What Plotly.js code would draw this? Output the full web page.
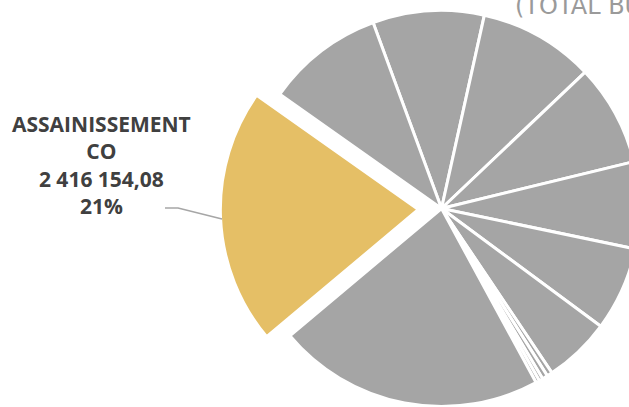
<!DOCTYPE html>
<html>
<head>
<meta charset="utf-8">
<script src="https://cdn.plot.ly/plotly-3.0.1.min.js"></script>
<style>
  html, body { margin: 0; padding: 0; overflow: hidden; background: #ffffff; }
  #chart { position: absolute; left: 0; top: -20px; width: 680px; height: 460px; }
</style>
</head>
<body>
<div id="chart"></div>
<script>
// Slices in clockwise order
const categories = [
  "Poste 1", "Poste 2", "Poste 3", "Poste 4", "Poste 5", "Poste 6",
  "Poste 7", "Poste 8", "Poste 9", "Poste 10", "Poste 11",
  "ASSAINISSEMENT CO", "Poste 12"
];
const values = [
  1049940, 1091680, 956830, 818760, 793080, 629320,
  51400, 51400, 35300, 35300, 2520500,
  2416154.08, 1109340
];
const highlighted = "ASSAINISSEMENT CO";
const titleText = "(TOTAL BUDGET)";

const GRAY = "#a5a5a5";
const GOLD = "#e5bf66";

const hIdx = categories.indexOf(highlighted);
const total = values.reduce((a, b) => a + b, 0);

const colors = categories.map((c, i) => i === hIdx ? GOLD : GRAY);
const pulls = categories.map((c, i) => i === hIdx ? 0.117 : 0);

function frNumber(v) {
  const parts = v.toFixed(2).split(".");
  const intPart = parts[0].replace(/\B(?=(\d{3})+(?!\d))/g, " ");
  return intPart + "," + parts[1];
}
const lbl = categories[hIdx];
const sp = lbl.lastIndexOf(" ");
const lblWrapped = lbl.slice(0, sp) + "<br>" + lbl.slice(sp + 1);
const pct = Math.round(values[hIdx] / total * 100) + "%";
const labelText = lblWrapped + "<br>" + frNumber(values[hIdx]) + "<br>" + pct;

const trace = {
  type: "pie",
  labels: categories,
  values: values,
  sort: false,
  direction: "clockwise",
  rotation: -20.2,
  pull: pulls,
  marker: { colors: colors, line: { color: "#ffffff", width: 3 } },
  textinfo: "none",
  hoverinfo: "none",
  showlegend: false,
  domain: { x: [0.3240, 0.9746], y: [0.0224, 0.9841] }
};

const layout = {
  width: 680,
  height: 460,
  margin: { l: 0, r: 0, t: 0, b: 0, pad: 0 },
  paper_bgcolor: "#ffffff",
  plot_bgcolor: "#ffffff",
  showlegend: false,
  annotations: [
    {
      text: "<b>" + labelText + "</b>",
      xref: "paper", yref: "paper",
      x: 0.1493, y: 0.5978,
      xanchor: "center", yanchor: "middle",
      align: "center",
      showarrow: false,
      font: { family: "Open Sans, sans-serif", size: 21, color: "#404040" }
    },
    {
      text: titleText,
      xref: "paper", yref: "paper",
      x: 513 / 680, y: 1 - 42 / 460,
      xanchor: "left", yanchor: "bottom",
      align: "left",
      showarrow: false,
      font: { family: "DejaVu Sans, sans-serif", size: 24, color: "#9a9a9a" }
    }
  ],
  shapes: [
    {
      type: "path",
      xref: "paper", yref: "paper",
      path: "M 0.2426 0.5043 L 0.2618 0.5043 L 0.3265 0.4804",
      line: { color: "#a6a6a6", width: 1.5 }
    }
  ]
};

Plotly.newPlot("chart", [trace], layout, { staticPlot: true, displayModeBar: false });
</script>
</body>
</html>
